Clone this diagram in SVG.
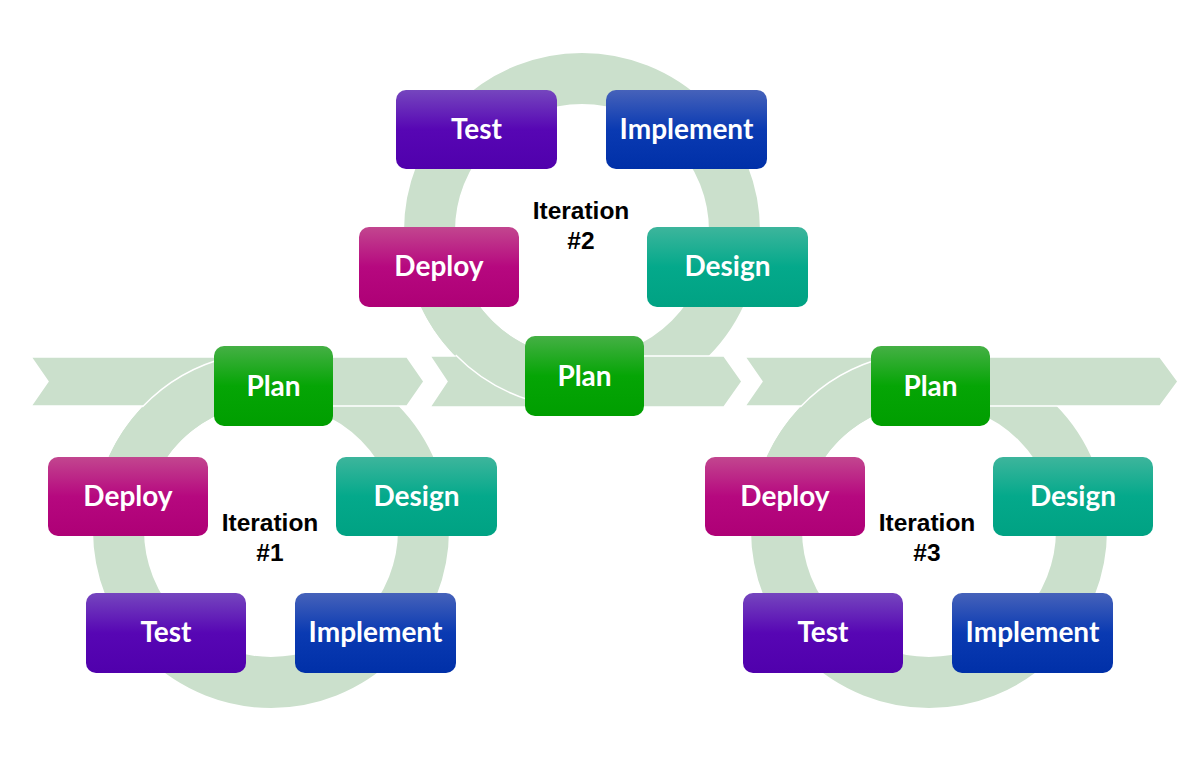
<svg xmlns="http://www.w3.org/2000/svg" width="1187" height="779" viewBox="0 0 1187 779">
<defs>
<linearGradient id="gPlan" x1="0" y1="0" x2="0" y2="1"><stop offset="0" stop-color="#45B045"/><stop offset="0.5" stop-color="#05A505"/><stop offset="1" stop-color="#009E00"/></linearGradient>
<linearGradient id="gDeploy" x1="0" y1="0" x2="0" y2="1"><stop offset="0" stop-color="#C2468F"/><stop offset="0.5" stop-color="#B6087F"/><stop offset="1" stop-color="#AE0076"/></linearGradient>
<linearGradient id="gDesign" x1="0" y1="0" x2="0" y2="1"><stop offset="0" stop-color="#3DB59C"/><stop offset="0.5" stop-color="#04A98B"/><stop offset="1" stop-color="#00A283"/></linearGradient>
<linearGradient id="gTest" x1="0" y1="0" x2="0" y2="1"><stop offset="0" stop-color="#7546BE"/><stop offset="0.5" stop-color="#5706B4"/><stop offset="1" stop-color="#5000AC"/></linearGradient>
<linearGradient id="gImpl" x1="0" y1="0" x2="0" y2="1"><stop offset="0" stop-color="#4662BA"/><stop offset="0.5" stop-color="#0A3AB2"/><stop offset="1" stop-color="#0030A8"/></linearGradient>
</defs>
<style>
.ring{fill:none;stroke:#CBE0CC;stroke-width:51}
.chev{fill:#CBE0CC;stroke:#FFFFFF;stroke-width:1.5}
.edge{fill:none;stroke:#FFFFFF;stroke-width:1.5}
.box{stroke:none}
.lbl{font-family:Lato,"Open Sans","Liberation Sans",sans-serif;font-weight:700;font-size:28px;fill:#FFFFFF;text-anchor:middle}
.it{font-family:"Liberation Sans",Arial,sans-serif;font-weight:700;font-size:24.5px;fill:#000000;text-anchor:middle}
</style>
<rect width="1187" height="779" fill="#FFFFFF"/>
<g id="connectors">
  <circle class="ring" cx="271" cy="530" r="152.5"/>
  <circle class="ring" cx="582" cy="231" r="152.5"/>
  <circle class="ring" cx="929" cy="530" r="152.5"/>
  <path class="chev" d="M31,357 L407,357 L424,381.5 L407,406 L31,406 L48,381.5 Z"/>
  <path class="chev" d="M430,356 L724,356 L742,381.5 L724,407 L430,407 L447,381.5 Z"/>
  <path class="chev" d="M745,357 L1160,357 L1178,381.5 L1160,406 L745,406 L762,381.5 Z"/>
  <path class="ring" d="M127.7,477.8 A152.5,152.5 0 0 1 284.3,378.1"/>
  <path class="ring" d="M595.3,382.9 A152.5,152.5 0 0 1 438.7,283.2"/>
  <path class="ring" d="M785.7,477.8 A152.5,152.5 0 0 1 942.3,378.1"/>
  <path class="edge" d="M142.3,407 A178,178 0 0 1 229,357"/>
  <path class="edge" d="M455.7,355 A177,177 0 0 0 530,400.2"/>
  <path class="edge" d="M800.3,407 A178,178 0 0 1 887,357"/>
</g>
<g id="iteration1">
  <g id="plan1"><rect class="box" x="214" y="346" width="119" height="80" rx="10" fill="url(#gPlan)"/><text class="lbl" x="273.5" y="395.5">Plan</text></g>
  <g id="deploy1"><rect class="box" x="48" y="457" width="160" height="79" rx="10" fill="url(#gDeploy)"/><text class="lbl" x="128" y="505.5">Deploy</text></g>
  <g id="design1"><rect class="box" x="336" y="457" width="161" height="79" rx="10" fill="url(#gDesign)"/><text class="lbl" x="416.5" y="505.5">Design</text></g>
  <g id="test1"><rect class="box" x="86" y="593" width="160" height="80" rx="10" fill="url(#gTest)"/><text class="lbl" x="166" y="642">Test</text></g>
  <g id="implement1"><rect class="box" x="295" y="593" width="161" height="80" rx="10" fill="url(#gImpl)"/><text class="lbl" x="375.5" y="642">Implement</text></g>
  <text class="it" x="270" y="531">Iteration</text><text class="it" x="270" y="561">#1</text>
</g>
<g id="iteration2">
  <g id="plan2"><rect class="box" x="525" y="336" width="119" height="80" rx="10" fill="url(#gPlan)"/><text class="lbl" x="584.5" y="385.5">Plan</text></g>
  <g id="test2"><rect class="box" x="396" y="90" width="161" height="79" rx="10" fill="url(#gTest)"/><text class="lbl" x="476.5" y="138.5">Test</text></g>
  <g id="implement2"><rect class="box" x="606" y="90" width="161" height="79" rx="10" fill="url(#gImpl)"/><text class="lbl" x="686.5" y="138.5">Implement</text></g>
  <g id="deploy2"><rect class="box" x="359" y="227" width="160" height="80" rx="10" fill="url(#gDeploy)"/><text class="lbl" x="439" y="276">Deploy</text></g>
  <g id="design2"><rect class="box" x="647" y="227" width="161" height="80" rx="10" fill="url(#gDesign)"/><text class="lbl" x="727.5" y="276">Design</text></g>
  <text class="it" x="581" y="219">Iteration</text><text class="it" x="581" y="249">#2</text>
</g>
<g id="iteration3">
  <g id="plan3"><rect class="box" x="871" y="346" width="119" height="80" rx="10" fill="url(#gPlan)"/><text class="lbl" x="930.5" y="395.5">Plan</text></g>
  <g id="deploy3"><rect class="box" x="705" y="457" width="160" height="79" rx="10" fill="url(#gDeploy)"/><text class="lbl" x="785" y="505.5">Deploy</text></g>
  <g id="design3"><rect class="box" x="993" y="457" width="160" height="79" rx="10" fill="url(#gDesign)"/><text class="lbl" x="1073" y="505.5">Design</text></g>
  <g id="test3"><rect class="box" x="743" y="593" width="160" height="80" rx="10" fill="url(#gTest)"/><text class="lbl" x="823" y="642">Test</text></g>
  <g id="implement3"><rect class="box" x="952" y="593" width="161" height="80" rx="10" fill="url(#gImpl)"/><text class="lbl" x="1032.5" y="642">Implement</text></g>
  <text class="it" x="927" y="531">Iteration</text><text class="it" x="927" y="561">#3</text>
</g>
</svg>
